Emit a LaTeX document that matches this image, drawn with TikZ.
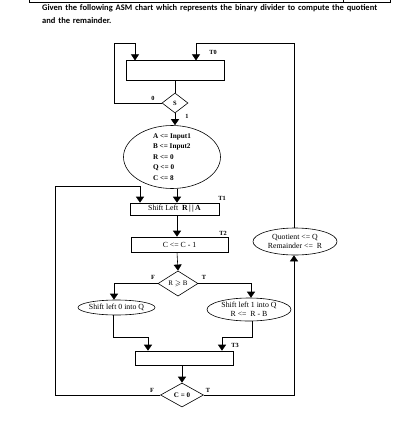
\documentclass[tikz,border=0pt]{standalone}
\usepackage{amsmath, amssymb}
\usepackage{fontspec}
\setmainfont{Liberation Serif}
\newfontfamily\titlefont{Carlito}
\usetikzlibrary{arrows.meta,shapes.geometric,calc}

\begin{document}
\begin{tikzpicture}
		[x=1pt,y=-1pt,line cap=butt,
		%Styles
		flow line/.style={semithick},
		state box/.style={draw,semithick,rectangle,inner sep=0pt,font=\fontsize{7.8}{9}\selectfont},
		decision/.style={draw,semithick,diamond,inner sep=0pt,font=\fontsize{7}{8}\selectfont},
		cond oval/.style={draw,semithick,ellipse,inner sep=-6pt,align=center,font=\fontsize{7.8}{8.5}\selectfont},
		state name/.style={font=\bfseries\fontsize{6.3}{7}\selectfont,inner sep=0pt},
		->,>={Triangle[width=8pt,length=6pt]}
		]

		\useasboundingbox (0,0) rectangle (405,440);

		%The frame of the page above
		\draw[-,thick] (29,0) -- (29,2.3) -- (390,2.3) -- (390,0) (343,0) -- (343,2.3);
		\node[anchor=north west,inner sep=0pt,align=left,text width=360pt,
			font=\titlefont\bfseries\fontsize{8.5}{13}\selectfont] (title) at (42,4)
			{Given the following ASM chart which represents the binary divider to compute the quotient\\and the remainder.};

		%The graphic
		\node[state box,minimum width=98pt,minimum height=20pt] (box0) at (175,70.7) {};
		\node[decision,minimum width=26pt,minimum height=20pt,font=\bfseries\fontsize{6.5}{7}\selectfont] (S) at (175,103) {S};
		\node[cond oval,minimum width=97pt,minimum height=63pt,align=left,
			font=\bfseries\fontsize{7.2}{10.5}\selectfont] (init) at (172,157)
			{A <= Input1\\B <= Input2\\R <= 0\\Q <= 0\\C <= 8};
		\node[state box,minimum width=89pt,minimum height=12pt] (shift) at (174.5,209) {Shift Left\ \ \textbf{R\,|\,|\,A}};
		\node[state box,minimum width=97pt,minimum height=15pt] (count) at (179.5,244.5) {C <= C - 1};
		\node[decision,minimum width=40pt,minimum height=25pt] (rb) at (178,283.5) {R $\geqslant$ B};
		\node[cond oval,minimum width=77pt,minimum height=15pt] (lft) at (116.5,307.5) {Shift left 0 into Q};
		\node[cond oval,minimum width=84pt,minimum height=23pt] (rgt) at (249,309.5) {Shift left 1 into Q\\R <=\ \ R - B};
		\node[state box,minimum width=98pt,minimum height=14pt] (box3) at (184,358) {};
		\node[decision,minimum width=43pt,minimum height=24pt,font=\bfseries\fontsize{7}{8}\selectfont] (cz) at (182,395) {C = 0};
		\node[cond oval,minimum width=84pt,minimum height=27pt] (quot) at (295,241.5) {Quotient <= Q\\Remainder <=\ \ R};

		%State names and branch labels
		\node[state name] (t0) at (213,52) {T0};
		\node[state name] (t1) at (222,198) {T1};
		\node[state name] (t2) at (223,233) {T2};
		\node[state name] (t3) at (235,345) {T3};
		\node[state name] (s0) at (153,98) {0};
		\node[state name] (s1) at (187,116) {1};
		\node[state name] (rbf) at (153,277) {F};
		\node[state name] (rbt) at (204,277) {T};
		\node[state name] (czf) at (152,390) {F};
		\node[state name] (czt) at (208,390) {T};

		%Connectors
		\coordinate (in0) at ([xshift=-40pt]box0.north);
		\coordinate (t0in) at ([xshift=21pt]box0.north);
		\coordinate (in1) at ([xshift=-34.5pt]shift.north);
		\coordinate (in3l) at ([xshift=-36pt]box3.north);
		\coordinate (in3r) at ([xshift=38pt]box3.north);

		\draw[-,flow line] (box0.south) -- (S.north);
		\draw[flow line] (S.west) -| (114,43) -| (in0);
		\draw[flow line] (S.south) -- (S.south |- init.north);
		\draw[flow line] ([xshift=5pt]init.south) -- ([xshift=2.5pt]shift.north);
		\draw[flow line] ([xshift=2.5pt]shift.south) -- ([xshift=-2.5pt]count.north);
		\draw[flow line] ([xshift=-2.5pt]count.south) -- (rb.north);
		\draw[flow line] (rb.west) -| ([xshift=-2.5pt]lft.north);
		\draw[flow line] (rb.east) -| ([xshift=2pt]rgt.north);
		\draw[flow line] ([xshift=-3.5pt]lft.south) |- (148,337) -- (in3l);
		\draw[flow line] ([xshift=3pt]rgt.south) |- (222,337) -- (in3r);
		\draw[flow line] ([xshift=-2pt]box3.south) -- (cz.north);
		\draw[flow line] (cz.west) -| (55,186) -| (in1);
		\draw[flow line] (cz.east) -| ([xshift=-1pt]quot.south);
		\draw[flow line] ([xshift=-1pt]quot.north) |- (t0in |- 0,43) -- (t0in);
\end{tikzpicture}
\end{document}
